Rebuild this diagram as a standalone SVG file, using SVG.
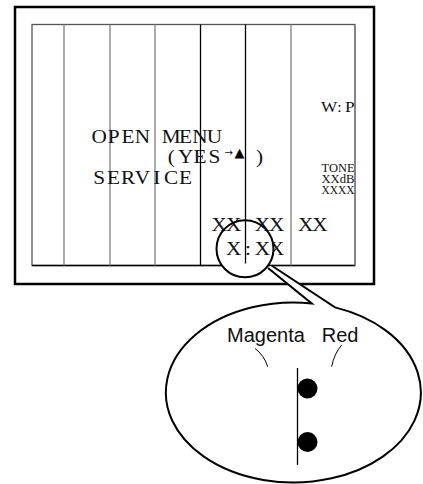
<svg xmlns="http://www.w3.org/2000/svg" width="423" height="484" viewBox="0 0 423 484">
<style>
.ser{font-family:"Liberation Serif","Times New Roman",serif;fill:#111}
.big{font-size:18.5px;text-anchor:middle}
.small{font-size:12.5px}
.sans{font-family:"Liberation Sans",Arial,sans-serif;font-size:20px;fill:#111}
.grey{stroke:#808080;stroke-width:1.3;fill:none}
.blk{stroke:#000;stroke-width:1.3;fill:none}
.thick{stroke:#000;stroke-width:2;fill:none}
</style>
<defs>
<mask id="outside-lens" maskUnits="userSpaceOnUse" x="0" y="0" width="423" height="484">
<rect x="0" y="0" width="423" height="484" fill="#fff"/>
<circle cx="245" cy="248.8" r="28.5" fill="#000"/>
</mask>
</defs>
<rect width="423" height="484" fill="#fff"/>
<g id="screen">
<rect x="15" y="7" width="359" height="277" fill="none" stroke="#000" stroke-width="2.5"/>
<rect x="32" y="24.5" width="323" height="241" fill="none" stroke="#555" stroke-width="1.3" mask="url(#outside-lens)"/>
<line x1="32" y1="265.5" x2="355" y2="265.5" class="blk" mask="url(#outside-lens)"/>
<line x1="64" y1="24.5" x2="64" y2="265.5" class="grey"/>
<line x1="110" y1="24.5" x2="110" y2="265.5" class="grey"/>
<line x1="155" y1="24.5" x2="155" y2="265.5" class="grey"/>
<line x1="200.5" y1="24.5" x2="200.5" y2="265.5" class="blk"/>
<line x1="245.5" y1="24.5" x2="245.5" y2="263.5" class="blk"/>
<line x1="291" y1="24.5" x2="291" y2="265.5" class="grey"/>
<line x1="355" y1="24.5" x2="355" y2="265.5" class="grey"/>
</g>
<g id="texts">
<text class="ser big" transform="scale(1.15 1)" x="286.26 295.22 304.17" y="112.5" style="font-size:15px">W:P</text>
<text class="ser big" transform="scale(1.15 1)" x="86.26 98.78 111.30 123.83 136.35 148.87 161.39 173.91 186.43" y="143">OPEN MENU</text>
<text class="ser big" transform="scale(1.15 1)" x="148.87 161.39 173.91 186.43" y="163.5">(YES</text>
<text x="224.5" y="156" style="font-family:'DejaVu Sans',sans-serif;font-size:10px;fill:#111">→</text>
<text x="234.5" y="157" style="font-family:'DejaVu Sans',sans-serif;font-size:13px;fill:#000">▲</text>
<text class="ser big" transform="scale(1.15 1)" x="225.65" y="163.5">)</text>
<text class="ser big" transform="scale(1.15 1)" x="86.26 98.78 111.30 123.83 136.35 148.87 161.39" y="184">SERVICE</text>
<text class="ser small" x="321.5" y="172.3" textLength="33" lengthAdjust="spacingAndGlyphs">TONE</text>
<text class="ser small" x="321.5" y="183.2" textLength="33" lengthAdjust="spacingAndGlyphs">XXdB</text>
<text class="ser small" x="321.5" y="193.8" textLength="33" lengthAdjust="spacingAndGlyphs">XXXX</text>
<text class="ser big" transform="scale(1.15 1)" x="190.61 203.13 215.65 228.17 240.70 253.22 265.74 278.26" y="231">XX XX XX</text>
<text class="ser big" transform="scale(1.15 1)" x="203.13 215.65 228.17" y="255">X:X</text>
<g mask="url(#outside-lens)">
<text class="ser big" transform="scale(1.15 1)" x="240.70" y="255">X</text>
</g>
</g>
<g id="lens-circle">
<circle cx="245" cy="248.8" r="28.5" class="thick"/>
</g>
<g id="connectors">
<path d="M271.5 265.5 L335 307.4 A127.5 90 0 1 1 311.7 303.4 L268 268" fill="#fff" stroke="#000" stroke-width="2"/>
<path d="M255 348.5 Q264 355 267.7 366.7" fill="none" stroke="#000" stroke-width="1"/>
<path d="M341.7 345 Q334 354 331.7 366.7" fill="none" stroke="#000" stroke-width="1"/>
</g>
<g id="callout">
<text class="sans" x="227" y="342">Magenta</text>
<text class="sans" x="321.7" y="342">Red</text>
<line x1="297.5" y1="368" x2="297.5" y2="465" stroke="#000" stroke-width="1.3"/>
<circle cx="307.5" cy="388.5" r="10" fill="#000"/>
<circle cx="307.5" cy="442" r="10" fill="#000"/>
</g>
</svg>
